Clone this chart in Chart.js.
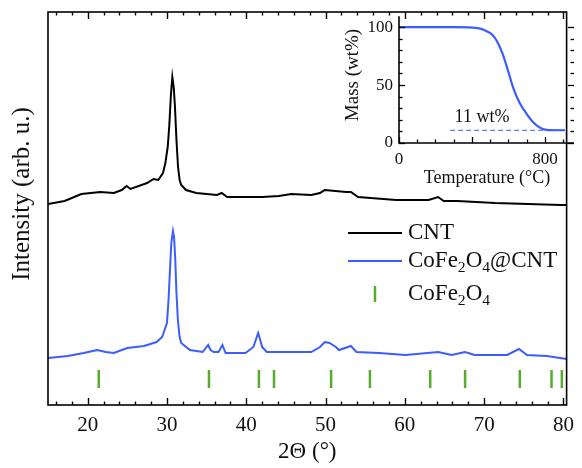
<!DOCTYPE html>
<html>
<head>
<meta charset="utf-8">
<script src="https://cdn.jsdelivr.net/npm/chart.js@4.4.0/dist/chart.umd.min.js"></script>
<style>
  body { margin: 0; background: #fff; }
  #wrap { position: relative; width: 582px; height: 468px; }
  #main { position: absolute; left: 0; top: 0; }
  #inset { position: absolute; left: 330px; top: 0; }
</style>
</head>
<body>
<div id="wrap">
  <canvas id="main" width="582" height="468"></canvas>
  <canvas id="inset" width="252" height="200"></canvas>
</div>
<script>
// XRD data (2theta in degrees, intensity in arbitrary units)
const cntAngle = [15, 17.1, 19.2, 21.6, 23.3, 24.3, 24.9, 25.4, 27.5, 28.3,
  28.9, 29.5, 29.8, 30.1, 30.3, 30.5, 30.68, 30.85, 31.0, 31.2,
  31.4, 31.6, 31.8, 32.4, 33.7, 36.3, 36.9, 37.6, 42.0, 44.1,
  45.7, 48.2, 49.3, 49.9, 52.6, 53.2, 54.1, 58.9, 63.0, 64.2,
  64.9, 66.6, 71.4, 79.7, 80.4];
const cntIntensity = [201, 204, 211, 213, 212, 215, 219, 216, 222, 226,
  225, 232, 242, 258, 280, 310, 328, 318, 300, 265,
  238, 225, 220, 215, 212, 210, 212, 208, 208, 209,
  211, 210, 212, 215, 213, 213, 208, 205, 205, 208,
  204, 204, 202, 200, 200];

const hybridAngle = [15, 17.5, 19.5, 21.2, 22.3, 23.3, 25.0, 27.1, 28.7, 29.4,
  30.0, 30.2, 30.4, 30.55, 30.76, 30.9, 31.05, 31.2, 31.38, 31.6,
  31.8, 32.9, 34.5, 35.2, 35.5, 35.9, 36.5, 37.0, 37.4, 39.9,
  40.9, 41.2, 41.5, 41.8, 42.0, 42.6, 44.1, 48.2, 49.3, 49.9,
  50.5, 51.3, 51.7, 53.2, 53.9, 56.7, 60.1, 64.2, 65.9, 67.6,
  68.8, 72.9, 74.4, 75.4, 77.9, 80.4];
const hybridIntensity = [47, 49, 52, 55, 53, 52, 57, 59, 63, 68,
  82, 105, 138, 162, 174, 168, 145, 112, 85, 68,
  62, 55, 53, 60, 55, 53, 53, 60, 52, 52,
  58, 65, 72, 64, 58, 53, 53, 53, 58, 63,
  62, 58, 55, 59, 53, 52, 50, 53, 50, 53,
  50, 50, 56, 50, 49, 46];

// reference CoFe2O4 reflections
const refPeaks = [21.4, 35.3, 41.6, 43.5, 50.7, 55.6, 63.2, 67.6, 74.5, 78.5, 79.8];
const refLevel = 26;

const xTicks = [20, 30, 40, 50, 60, 70, 80];
const seriesNames = ['CNT', 'CoFe2O4@CNT', 'CoFe2O4'];

// TGA inset
const tgaTemp = [0, 100, 200, 300, 400, 450, 480, 510, 540, 570,
  600, 625, 660, 700, 735, 770, 800, 830, 860, 910];
const tgaMass = [100, 100, 100, 100, 99.6, 98.5, 96.5, 93.6, 87, 76,
  61, 48, 35, 25, 18, 13.5, 11.5, 11.1, 11, 11];
const residueTemp = [280, 910];
const residueMass = [11, 11];
const residueText = '11 wt%';
const tgaXTicks = [0, 800];
const tgaYTicks = [0, 50, 100];

const serif = "'Liberation Serif', 'Times New Roman', serif";
const blue = '#3b5cff';
const green = '#5aab2a';
const ink = '#111';

function pts(xs, ys) {
  return xs.map((x, i) => ({ x: x, y: ys[i] }));
}

// draw a label where digits become subscripts (CoFe2O4)
function richText(ctx, str, x, y, size) {
  let cx = x;
  for (const ch of str) {
    const sub = /[0-9]/.test(ch);
    ctx.font = (sub ? size * 0.68 : size) + 'px ' + serif;
    ctx.fillText(ch, cx, sub ? y + size * 0.28 : y);
    cx += ctx.measureText(ch).width;
  }
}

function xTickMarks(ctx, scale, vals, y0, len) {
  vals.forEach(v => {
    const px = Math.round(scale.getPixelForValue(v)) + 0.5;
    ctx.beginPath();
    ctx.moveTo(px, y0);
    ctx.lineTo(px, y0 + len);
    ctx.stroke();
  });
}
function yTickMarks(ctx, scale, vals, x0, len) {
  vals.forEach(v => {
    const py = Math.round(scale.getPixelForValue(v)) + 0.5;
    ctx.beginPath();
    ctx.moveTo(x0, py);
    ctx.lineTo(x0 + len, py);
    ctx.stroke();
  });
}

const mainDecor = {
  id: 'mainDecor',
  afterDraw(chart) {
    const ctx = chart.ctx;
    const a = chart.chartArea;
    const xs = chart.scales.x;
    ctx.save();
    ctx.strokeStyle = '#000';
    ctx.lineWidth = 1.6;
    ctx.strokeRect(a.left, a.top, a.width, a.height);

    const minor = [];
    for (let v = 16; v <= 80; v += 2) if (v % 10 !== 0) minor.push(v);
    ctx.lineWidth = 1.4;
    xTickMarks(ctx, xs, xTicks, a.bottom, -7);
    xTickMarks(ctx, xs, minor, a.bottom, -3.5);
    xTickMarks(ctx, xs, xTicks, a.top, 7);
    xTickMarks(ctx, xs, minor, a.top, 3.5);

    ctx.fillStyle = ink;
    ctx.textAlign = 'center';
    ctx.textBaseline = 'middle';
    ctx.font = '23px ' + serif;
    ctx.fillText('2\u0398 (\u00b0)', (a.left + a.right) / 2, 452);

    ctx.save();
    ctx.translate(22, 194);
    ctx.rotate(-Math.PI / 2);
    ctx.font = '25px ' + serif;
    ctx.fillText('Intensity (arb. u.)', 0, 0);
    ctx.restore();

    // legend
    const lx0 = 348, lx1 = 402, tx = 408;
    const rows = [233, 261, 294];
    ctx.lineWidth = 2;
    ctx.strokeStyle = '#000';
    ctx.beginPath(); ctx.moveTo(lx0, rows[0]); ctx.lineTo(lx1, rows[0]); ctx.stroke();
    ctx.strokeStyle = blue;
    ctx.beginPath(); ctx.moveTo(lx0, rows[1]); ctx.lineTo(lx1, rows[1]); ctx.stroke();
    ctx.strokeStyle = green;
    ctx.lineWidth = 2.5;
    ctx.beginPath(); ctx.moveTo(375, rows[2] - 8); ctx.lineTo(375, rows[2] + 8); ctx.stroke();
    ctx.textAlign = 'left';
    seriesNames.forEach((n, i) => richText(ctx, n, tx, rows[i], 23));
    ctx.restore();
  }
};

new Chart(document.getElementById('main'), {
  type: 'scatter',
  data: {
    datasets: [{
      label: seriesNames[0],
      data: pts(cntAngle, cntIntensity),
      showLine: true,
      borderColor: '#000',
      borderWidth: 2,
      pointRadius: 0,
      tension: 0
    }, {
      label: seriesNames[1],
      data: pts(hybridAngle, hybridIntensity),
      showLine: true,
      borderColor: blue,
      borderWidth: 2,
      pointRadius: 0,
      tension: 0
    }, {
      label: seriesNames[2],
      data: refPeaks.map(p => ({ x: p, y: refLevel })),
      pointStyle: 'line',
      rotation: 90,
      radius: 9,
      borderColor: green,
      borderWidth: 2.5
    }]
  },
  options: {
    responsive: false,
    animation: false,
    devicePixelRatio: 1,
    layout: { padding: { top: 12, right: 8, left: 0, bottom: 0 } },
    plugins: { legend: { display: false }, tooltip: { enabled: false } },
    scales: {
      x: {
        type: 'linear',
        min: 15,
        max: 80.4,
        grid: { display: false, drawTicks: false },
        border: { display: false },
        afterBuildTicks: s => { s.ticks = xTicks.map(v => ({ value: v })); },
        afterFit: s => { s.height = 63; },
        ticks: { color: ink, padding: 8, font: { family: serif, size: 21 }, maxRotation: 0 }
      },
      y: {
        min: 0,
        max: 393,
        grid: { display: false, drawTicks: false },
        border: { display: false },
        ticks: { display: false },
        afterFit: s => { s.width = 48; }
      }
    }
  },
  plugins: [mainDecor]
});

const insetDecor = {
  id: 'insetDecor',
  afterDraw(chart) {
    const ctx = chart.ctx;
    const a = chart.chartArea;
    const xs = chart.scales.x, ys = chart.scales.y;
    ctx.save();
    ctx.strokeStyle = '#000';
    ctx.lineWidth = 1.6;
    ctx.beginPath();
    ctx.moveTo(a.left, a.top);
    ctx.lineTo(a.left, a.bottom);
    ctx.lineTo(a.right, a.bottom);
    ctx.stroke();

    ctx.lineWidth = 1.3;
    const yMinor = [], yMajor = [0, 50, 100];
    for (let v = 10; v <= 100; v += 10) if (v % 50 !== 0) yMinor.push(v);
    const xMinor = [], xMajor = [0, 400, 800];
    for (let v = 100; v <= 900; v += 100) if (v % 400 !== 0) xMinor.push(v);
    yTickMarks(ctx, ys, yMajor, a.left, 6);
    yTickMarks(ctx, ys, yMinor, a.left, 3.5);
    yTickMarks(ctx, ys, yMajor, a.right, -6);
    yTickMarks(ctx, ys, yMinor, a.right, -3.5);
    xTickMarks(ctx, xs, xMajor, a.bottom, -6);
    xTickMarks(ctx, xs, xMinor, a.bottom, -3.5);

    ctx.fillStyle = ink;
    ctx.textAlign = 'center';
    ctx.textBaseline = 'middle';
    ctx.font = '18px ' + serif;
    ctx.fillText('Temperature (\u00b0C)', 157, 178);
    ctx.fillText(residueText, xs.getPixelForValue(455), ys.getPixelForValue(22));
    ctx.save();
    ctx.translate(23, 75);
    ctx.rotate(-Math.PI / 2);
    ctx.font = '19px ' + serif;
    ctx.fillText('Mass (wt%)', 0, 0);
    ctx.restore();
    ctx.restore();
  }
};

new Chart(document.getElementById('inset'), {
  type: 'scatter',
  data: {
    datasets: [{
      data: pts(tgaTemp, tgaMass),
      showLine: true,
      borderColor: blue,
      borderWidth: 2.2,
      pointRadius: 0,
      cubicInterpolationMode: 'monotone'
    }, {
      data: pts(residueTemp, residueMass),
      showLine: true,
      borderColor: blue,
      borderWidth: 1.2,
      borderDash: [5, 3],
      pointRadius: 0
    }]
  },
  options: {
    responsive: false,
    animation: false,
    devicePixelRatio: 1,
    layout: { padding: { top: 12, right: 8, left: 0, bottom: 0 } },
    plugins: { legend: { display: false }, tooltip: { enabled: false } },
    scales: {
      x: {
        type: 'linear',
        min: 0,
        max: 959,
        grid: { display: false, drawTicks: false },
        border: { display: false },
        afterBuildTicks: s => { s.ticks = tgaXTicks.map(v => ({ value: v })); },
        afterFit: s => { s.height = 57; },
        ticks: { color: ink, padding: 6, font: { family: serif, size: 17 }, maxRotation: 0 }
      },
      y: {
        min: 0,
        max: 109.4,
        grid: { display: false, drawTicks: false },
        border: { display: false },
        afterBuildTicks: s => { s.ticks = tgaYTicks.map(v => ({ value: v })); },
        afterFit: s => { s.width = 69; },
        ticks: { color: ink, padding: 6, font: { family: serif, size: 17 } }
      }
    }
  },
  plugins: [insetDecor]
});
</script>
</body>
</html>
